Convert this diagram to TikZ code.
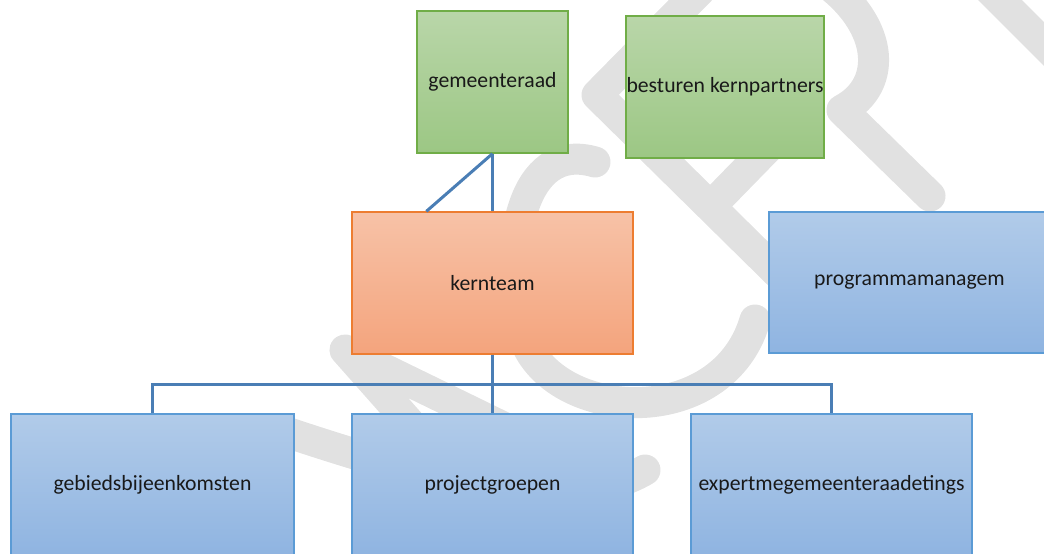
\documentclass[tikz,border=0pt]{standalone}
\usepackage{fontspec}
\setmainfont{Carlito}
\usetikzlibrary{calc}
\definecolor{gtop}{HTML}{B9D6A9}
\definecolor{gbot}{HTML}{9CC784}
\definecolor{gline}{HTML}{70AD47}
\definecolor{otop}{HTML}{F7C2A7}
\definecolor{obot}{HTML}{F4A47D}
\definecolor{oline}{HTML}{ED7D31}
\definecolor{btop}{HTML}{B1CBE9}
\definecolor{bbot}{HTML}{8FB4E1}
\definecolor{bline}{HTML}{5B9BD5}
\definecolor{conncol}{HTML}{4A7EB5}
\definecolor{wm}{HTML}{E1E1E1}
\begin{document}
\begin{tikzpicture}[x=1pt,y=-1pt,
  box/.style={rectangle, inner sep=0pt, line width=1.3pt, text=black!90,
    font=\fontsize{21.7}{26}\selectfont},
  greenbox/.style={box, draw=gline, top color=gtop, bottom color=gbot},
  orangebox/.style={box, draw=oline, top color=otop, bottom color=obot},
  bluebox/.style={box, draw=bline, top color=btop, bottom color=bbot},
  conn/.style={draw=conncol, line width=3pt},
  wmark/.style={draw=wm, line width=31pt, line cap=round, line join=round}]
\useasboundingbox (0,0) rectangle (1044,554);
% watermark
\draw[wmark] (720,-30) -- (597,95) -- (800,295);
\draw[wmark] (712,205) -- (790,125);
\draw[wmark] (815,-25) .. controls (885,20) and (890,85) .. (842,110) -- (930,196);
\draw[wmark] (985,-15) -- (1070,70);
\draw[wmark] (595,162) .. controls (520,140) and (505,250) .. (520,320) .. controls (530,420) and (720,440) .. (755,320);
\draw[wmark] (460,480) -- (345,350) -- (540,445);
\draw[wmark] (280,430) .. controls (400,470) and (560,520) .. (645,470);
% boxes
\node[greenbox, minimum width=151pt, minimum height=142pt] (g) at (492.5,82) {gemeenteraad};
\node[greenbox, minimum width=198pt, minimum height=142pt] (b) at (725,87) {besturen kernpartners};
\node[orangebox, minimum width=281pt, minimum height=142pt] (k) at (492.5,283) {kernteam};
\node[bluebox, minimum width=281pt, minimum height=141pt] (p) at (909.5,282.5) {programmamanagem};
\node[bluebox, minimum width=283pt, minimum height=142pt] (gb) at (152.5,485) {gebiedsbijeenkomsten};
\node[bluebox, minimum width=281pt, minimum height=142pt] (pg) at (492.5,485) {projectgroepen};
\node[bluebox, minimum width=281pt, minimum height=142pt] (ex) at (831.5,485) {expertmegemeenteraadetings};
% connectors
\draw[conn] (g.south) -- (k.north);
\draw[conn] (g.south) -- ($(k.north west)+(75,0)$);
\draw[conn] (k.south) -- (pg.north);
\draw[conn] (gb.north) -- ++(0,-29) -| (ex.north);
\end{tikzpicture}
\end{document}
